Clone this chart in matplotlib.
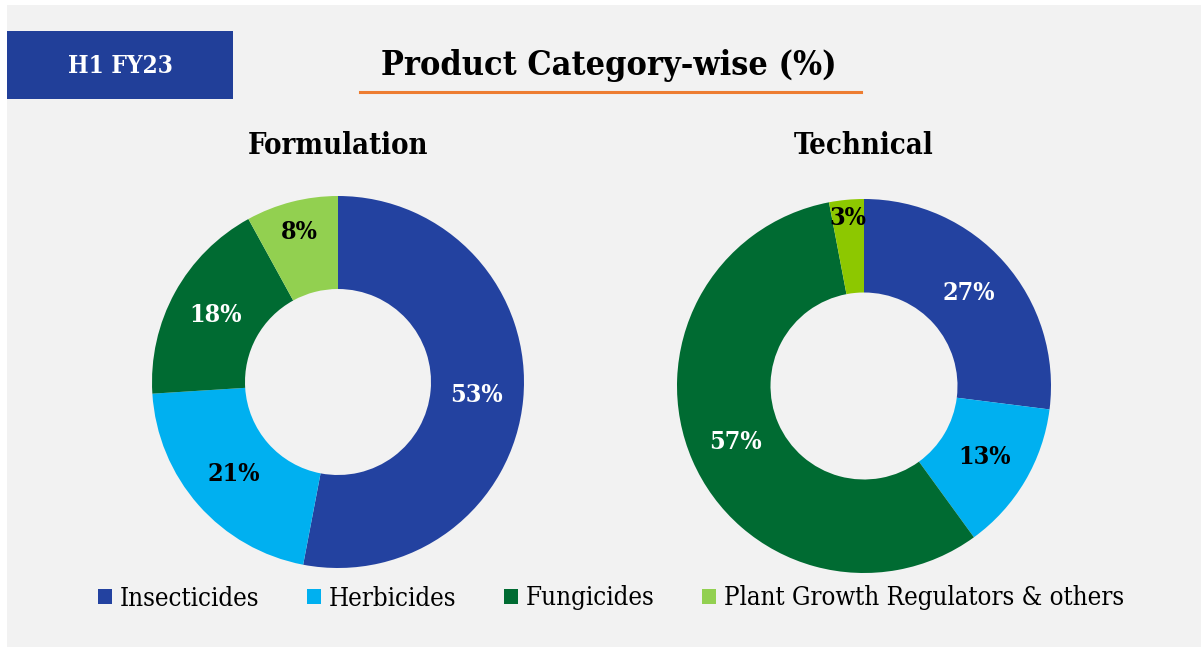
import numpy as np
import matplotlib
matplotlib.use('Agg')
import matplotlib.pyplot as plt
from matplotlib.patches import Rectangle, Patch
from matplotlib.lines import Line2D

categories = ['Insecticides', 'Herbicides', 'Fungicides', 'Plant Growth Regulators & others']
formulation = [53, 21, 18, 8]
technical = [27, 13, 57, 3]

form_colours = ['#2342A0', '#00B0F0', '#006B32', '#92D050']
tech_colours = ['#2342A0', '#00B0F0', '#006B32', '#8DC800']
form_label_colours = ['white', 'black', 'white', 'black']
tech_label_colours = ['white', 'black', 'white', 'black']
# radial position of the % labels (small slices sit nearer the rim)
form_label_dist = [0.75, 0.75, 0.75, 0.83]
tech_label_dist = [0.75, 0.75, 0.75, 0.90]

W, H = 1201, 647
plt.rcParams['font.family'] = ['DejaVu Serif']

fig = plt.figure(figsize=(W / 100, H / 100), dpi=100)
fig.patch.set_facecolor('white')

def fx(px):
    return px / W

def fy(py):
    return 1 - py / H

# grey panel
fig.patches.append(Rectangle((fx(7), 0), 1 - fx(7), fy(5), transform=fig.transFigure,
                             facecolor='#F2F2F2', edgecolor='none', zorder=-10))
# header tag
fig.patches.append(Rectangle((fx(7), fy(99)), fx(226), 68 / H, transform=fig.transFigure,
                             facecolor='#213F99', edgecolor='none', zorder=-5))
fig.text(fx(120), fy(66), 'H1 FY23', color='white', fontsize=17.5, fontweight='bold',
         ha='center', va='center', fontstretch='condensed')

fig.text(fx(609), fy(66), 'Product Category-wise (%)', fontsize=24.5, fontweight='bold',
         ha='center', va='center', fontstretch='condensed')
fig.lines.append(Line2D([fx(360), fx(861)], [fy(92), fy(92)], transform=fig.transFigure,
                        color='#ED7D31', linewidth=2.2))


def donut(cx, cy, r, values, colours, label_colours, label_dist, title, title_y):
    ax = fig.add_axes([fx(cx - r), fy(cy + r), 2 * r / W, 2 * r / H])
    wedges, texts, autotexts = ax.pie(values, colors=colours, startangle=90, counterclock=False,
                                      wedgeprops=dict(width=0.5, edgecolor='none'),
                                      autopct=lambda p: f'{p:.0f}%', pctdistance=0.75,
                                      textprops=dict(fontsize=18, fontweight='bold',
                                                     fontstretch='condensed'))
    for w, t, c, d in zip(wedges, autotexts, label_colours, label_dist):
        t.set_color(c)
        ang = np.deg2rad((w.theta1 + w.theta2) / 2)
        t.set_position((d * np.cos(ang), d * np.sin(ang)))
    ax.set_xlim(-1, 1)
    ax.set_ylim(-1, 1)
    ax.set_aspect('equal')
    ax.axis('off')
    fig.text(fx(cx), fy(title_y), title, fontsize=21, fontweight='bold',
             ha='center', va='center', fontstretch='condensed')
    return wedges


donut(338, 382, 186, formulation, form_colours, form_label_colours, form_label_dist,
      'Formulation', 145)
donut(864, 386, 187, technical, tech_colours, tech_label_colours, tech_label_dist,
      'Technical', 146)

handles = [Patch(facecolor=c, edgecolor='none') for c in form_colours]
fig.legend(handles, categories, loc='center', bbox_to_anchor=(fx(611), fy(598)), ncol=4,
           frameon=False, handlelength=0.55, handleheight=0.55, handletextpad=0.3,
           columnspacing=1.85, prop=dict(size=18.5, stretch='condensed'))

fig.savefig('out.png', dpi=100, facecolor=fig.get_facecolor())
